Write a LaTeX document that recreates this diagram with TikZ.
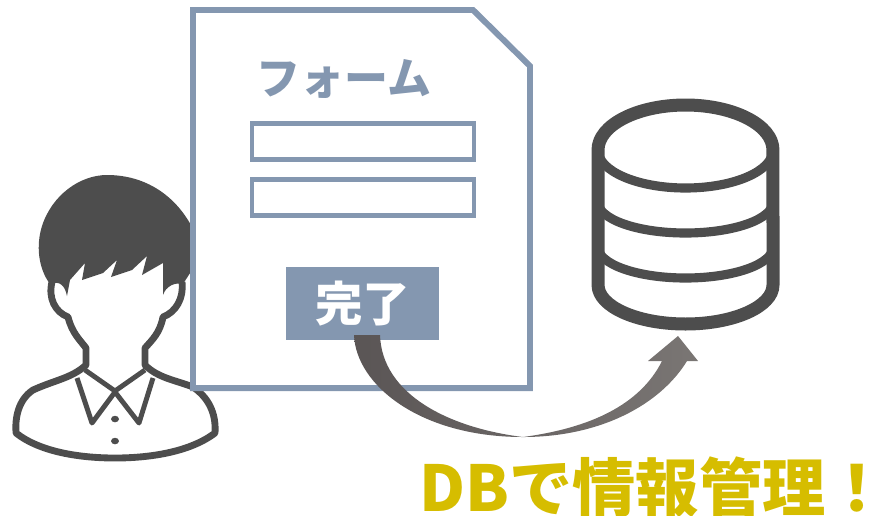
\documentclass[tikz,border=0pt]{standalone}
\usepackage{fontspec}
\newfontfamily\cjk[BoldFont={Noto Sans CJK JP Black}]{Noto Sans CJK JP}
\newfontfamily\cjkpalt[BoldFont={Noto Sans CJK JP Black}, BoldFeatures={RawFeature=+palt}]{Noto Sans CJK JP}
\usetikzlibrary{positioning, calc}

\definecolor{formblue}{HTML}{8497B0}
\definecolor{icongray}{HTML}{4D4D4D}
\definecolor{notegold}{HTML}{D6BD00}
\definecolor{arrowdark}{HTML}{5A5555}
\definecolor{arrowlight}{HTML}{7A7674}

\begin{document}
\begin{tikzpicture}[x=0.02cm, y=-0.02cm]
        \tikzstyle{field}=[draw=formblue, line width=2.5pt, fill=white, minimum width=4.44cm, minimum height=0.72cm, inner sep=0];
        \tikzstyle{icon}=[draw=icongray, line join=round];

        \useasboundingbox (0, 0) rectangle (874, 515);

        % person
        \draw[icon, line width=3.9pt, fill=white] (52, 282) .. controls (48, 298) and (55, 312) .. (68, 317)
                .. controls (72, 333) and (80, 340) .. (86, 348) -- (86, 365)
                .. controls (72, 378) and (55, 380) .. (33, 390)
                .. controls (18, 400) and (15, 418) .. (16, 433)
                .. controls (40, 452) and (80, 458) .. (115, 458)
                .. controls (150, 458) and (190, 452) .. (215, 433)
                .. controls (216, 418) and (212, 400) .. (193, 387)
                .. controls (175, 380) and (158, 378) .. (145, 365) -- (145, 348)
                .. controls (152, 340) and (160, 333) .. (163, 317)
                .. controls (176, 312) and (184, 298) .. (182, 282);
        \fill[icongray] (50, 284) .. controls (38, 268) and (36, 245) .. (42, 226)
                .. controls (52, 195) and (80, 175) .. (107, 175)
                .. controls (145, 175) and (175, 195) .. (192, 227)
                -- (192, 270) -- (183, 284) .. controls (175, 282) and (166, 286) .. (163, 295)
                -- (163, 263) -- (142, 275) -- (147, 256) -- (132, 270) -- (111, 277)
                -- (117, 260) -- (103, 273) -- (82, 280) -- (85, 263) -- (70, 280)
                -- (67, 296) .. controls (65, 286) and (60, 280) .. (50, 284) -- cycle;
        \draw[icon, line width=2.8pt] (85, 370) -- (115, 391) -- (145, 370);
        \draw[icon, line width=2.8pt] (77, 378) -- (92, 423) -- (115, 392) -- (139, 423) -- (153, 378);
        \fill[icongray] (115, 419) ellipse (0.08cm and 0.065cm);
        \fill[icongray] (115, 441) ellipse (0.08cm and 0.065cm);

        % form
        \draw[draw=formblue, line width=3.4pt, fill=white, line join=miter] (193, 10) -- (473, 10) -- (530, 66) -- (530, 388) -- (193, 388) -- cycle;
        \node[text=formblue, font=\cjk\bfseries\fontsize{25}{29}\selectfont, inner sep=0] (title) at (344, 79) {フォーム};
        \node[field] (name) at (363, 141.5) {};
        \node[field] (mail) at (363, 197.5) {};
        \node[fill=formblue, text=white, font=\cjk\bfseries\fontsize{27}{31}\selectfont, minimum width=3.06cm, minimum height=1.46cm, inner sep=0] (done) at (362.5, 303.5) {完了};

        % database
        \draw[icon, line width=7.4pt] (598, 150) arc[start angle=180, end angle=0, x radius=1.75cm, y radius=0.9cm]
                -- (773, 285) arc[start angle=360, end angle=180, x radius=1.75cm, y radius=0.78cm] -- cycle;
        \draw[icon, line width=5.2pt] (598, 150) arc[start angle=180, end angle=360, x radius=1.75cm, y radius=0.76cm];
        \draw[icon, line width=5.2pt] (598, 202) arc[start angle=180, end angle=360, x radius=1.75cm, y radius=0.62cm];
        \draw[icon, line width=5.2pt] (598, 247) arc[start angle=180, end angle=360, x radius=1.75cm, y radius=0.62cm];
        \coordinate (db) at (678, 336);

        % arrow
        \coordinate (tailL) at (354, 335);
        \coordinate (tailR) at (380, 335);
        \coordinate (low) at (523, 437);
        \path[left color=arrowdark, right color=arrowlight] (tailL) .. controls (356, 385) and (420, 437) .. (low)
                .. controls (600, 437) and (660, 405) .. (687, 361) -- (698, 361) -- (db) -- (648, 361) -- (662, 361)
                .. controls (640, 405) and (590, 428) .. (low)
                .. controls (450, 428) and (382, 395) .. (tailR) -- cycle;

        \node[text=notegold, font=\cjk\bfseries\fontsize{36}{42}\selectfont, inner sep=0, anchor=west] (note) at (419, 487) {DBで情報管理\kern0.25em{\cjkpalt\bfseries ！}};
\end{tikzpicture}
\end{document}
